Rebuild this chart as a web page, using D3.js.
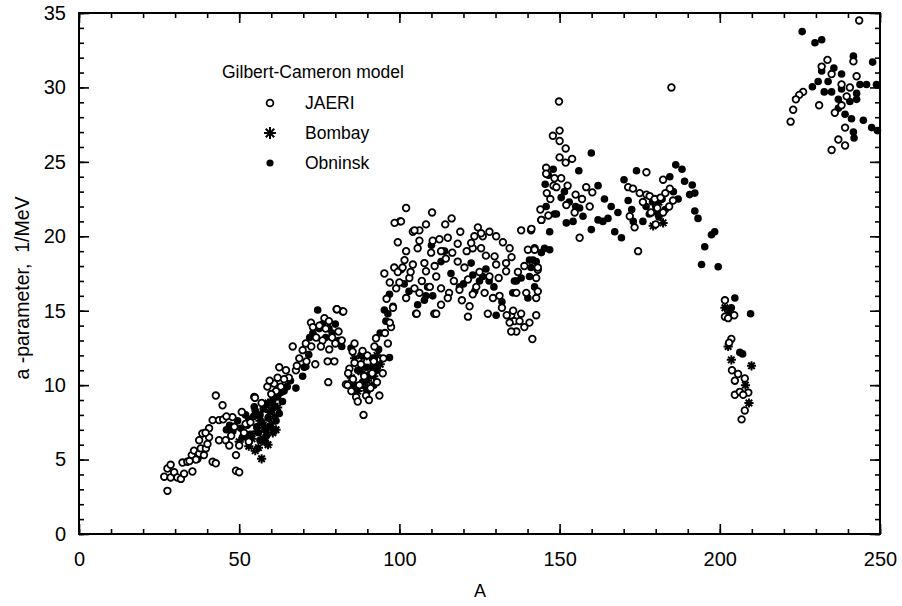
<!DOCTYPE html>
<html>
<head>
<meta charset="utf-8">
<script src="https://cdn.jsdelivr.net/npm/d3@7"></script>
<style>
  html, body { margin: 0; padding: 0; background: #fff; }
  svg { display: block; }
</style>
</head>
<body>
<script>
const width = 902;
const height = 606;
const font = "'Liberation Sans', Arial, Helvetica, sans-serif";

// Tick values
const xMajor = [0, 50, 100, 150, 200, 250];
const xMinor = d3.range(0, 251, 10);
const yMajor = [0, 5, 10, 15, 20, 25, 30, 35];
const yMinor = d3.range(0, 36, 1);

const seriesNames = ["JAERI", "Bombay", "Obninsk"];

// [A, a-parameter]
const jaeri = [
  [27.6,2.9],[26.6,3.85],[27.6,4.4],[28.6,4.65],[28.6,3.8],[29.7,4.15],[30.7,3.8],[31.8,3.7],[32.8,4.05],[32.3,4.8],
  [33.8,4.85],[35.4,4.2],[35.2,5.3],[35.9,5.6],[37,5.05],[37.5,5.4],[38,5.75],[39,5.3],[39.6,5.75],[40.1,6.05],
  [37.5,6.3],[38.5,6.75],[40.6,6.5],[40.6,7.1],[41.7,7.65],[41.7,4.85],[42.7,4.75],[42.7,9.3],[43.7,7.65],[44.8,8.65],
  [43.7,6.3],[45.8,6.3],[46.9,5.95],[47.9,7.85],[49,5.3],[49,4.25],[50,4.15],[50,5.95],[50.8,8.2],[52,7.4],
  [54.7,9.2],[54.9,9.15],[36.5,5.0],[34.5,4.9],[39.5,6.8],[45,7.7],[46,7.9],[47.5,6.6],[48.5,7.2],[51.5,6.8],
  [53,6.2],[53.5,7.5],
  [58.8,9.9],[60.9,10.1],[62,10.5],[63,9.9],[64.6,11.0],[66.7,12.6],[67.7,11.0],[68.75,11.8],[69.8,12.35],[70.8,12.8],
  [72.4,14.2],[73.75,11.4],[76.6,14.5],[77.6,11.6],[77.8,10.2],[79.7,11.6],[80.4,15.1],[82.3,14.95],[83.3,10.05],[74,13.2],
  [75,14.0],[76,13.0],[77,13.8],[78,14.3],[79,13.2],[80,12.8],[81,13.6],[82,13.0],[75.5,12.6],[65.5,10.5],
  [68,11.3],[71,11.6],[72.5,12.6],[73,13.9],[61.5,9.6],[57,8.8],[60,9.4],[59.5,10.3],[62.5,11.2],[64,10.4],
  [78.1,12.4],[80.5,15.1],[82.5,14.95],
  [84.4,11.1],[85.4,12.25],[86.5,9.2],[87,8.9],[88.8,8.0],[89.6,9.3],[83.8,10.0],[93.75,9.3],[94.8,10.8],[96.4,12.8],
  [97.4,13.9],[92.7,13.15],[92.2,12.6],[84,10.8],[85.5,10.4],[86,11.5],[87.5,10.0],[88,11.4],[89,10.6],[90,12.0],
  [91,9.8],[91.5,10.8],[92,11.6],[93,10.2],[95,11.8],[95.5,13.5],[97,14.2],[85,9.6],[90.5,9.0],[88.5,12.3],[86,12.8],
  [95.3,17.5],[98.4,17.9],[97,16.9],[99,16.5],[96,15.8],[98,15.2],[100,16.9],[99.5,17.6],
  [102.1,21.9],[100.2,21.0],[110.2,21.6],[108.3,20.8],[106.25,20.4],[104.2,20.3],[114.3,20.8],[116.3,21.2],[115.1,19.9],[112.5,19.8],
  [110.4,19.7],[106.25,19.7],[118.2,19.5],[124.5,20.6],[123.4,20.0],[128.1,20.3],[126,20.0],[130.2,20.0],[132.3,19.6],[134.4,19.2],
  [122.9,19.2],[125.5,19.2],[138,20.4],[141.1,20.4],[144.3,21.1],[102.1,19.0],[105.7,19.2],[109.9,18.9],[113,19.0],[122.4,19.55],
  [129.7,18.65],[140.1,19.1],[142.2,19.2],[101.6,18.4],[101,17.9],[104.2,18.1],[107.8,18.2],[111,18.0],[108.3,17.65],[118.2,18.3],
  [120.3,17.9],[121.4,17.1],[125,17.6],[128.1,17.3],[130.2,18.1],[133.3,18.2],[133.3,17.65],[143.2,17.75],[142.7,17.2],[103.1,17.2],
  [104.7,16.5],[102.1,15.85],[106.25,16.2],[113,16.5],[115.5,16.2],[115.1,15.85],[118.75,16.4],[122.9,16.1],[126.6,16.2],[129.2,15.85],
  [131.25,16.0],[136.5,16.2],[139.6,16.2],[142.7,15.85],[113,15.4],[110.9,14.8],[105.2,14.8],[121.9,15.3],[121.4,14.6],[127.6,14.8],
  [134.9,14.7],[135.9,14.3],[105.4,14.8],[111.5,14.8],[117,17.0],[119.5,15.7],[124,16.6],[127,18.7],[131,17.2],[135,18.6],
  [137,17.6],[139,18.0],[143.2,16.3],[104.7,20.4],[100.5,21.0],[125.5,20.2],[141.2,20.5],[114.5,18.5],[116.5,18.9],[119,20.3],
  [121,19.0],[98.5,20.9],[99.5,19.6],[103.5,17.6],[107,17.0],[109.5,16.6],[111.5,17.3],
  [134.4,14.2],[136.5,13.6],[134.9,13.6],[140.6,14.2],[141.5,13.1],[142.7,14.7],[137.5,14.3],[139,13.9],[138,14.8],[135.5,15.0],
  [133.5,14.7],[132,15.2],[143.2,17.9],[142.2,19.1],[144.3,21.1],
  [149.8,29.05],[150,27.1],[147.9,26.75],[150,26.4],[151.9,25.9],[150,25.3],[153.9,25.2],[151.9,24.95],[145.8,24.6],[145.8,24.2],
  [148.4,23.9],[148.1,23.4],[146,22.9],[147.1,22.5],[152.1,22.1],[154.7,21.6],[149,23.3],[150.5,23.9],[152.5,23.4],[155,22.8],
  [157,22.5],[144,21.8],[146.5,21.4],
  [158.3,23.3],[160.2,22.95],[159.4,22.0],[156.25,19.9],[171.4,23.3],[177.1,24.3],[172.9,23.2],[175,22.9],[177.1,22.8],[178.1,22.7],
  [179.7,22.5],[171.9,21.35],[173.4,20.6],[174.5,19.0],[182.3,23.8],[184.4,23.2],[185.4,22.4],[184.2,22.0],[182.3,21.6],[184.9,30.0],
  [180.5,21.9],[181.5,22.6],[183,22.9],[176,22.3],[178.5,21.6],[180,20.8],
  [201.6,15.7],[201.6,14.6],[202.6,14.5],[204.5,14.7],[203.6,13.1],[202.9,12.85],[203.8,11.0],[205.7,10.75],[204.7,10.3],[207.8,10.45],
  [208.9,9.5],[204.7,9.35],[206.25,9.55],[207.3,9.35],[207.8,8.3],[206.8,7.7],
  [243.5,34.5],[241.7,31.75],[233.6,31.85],[231.8,31.4],[234.9,30.9],[242.7,30.75],[238,30.2],[240.6,30.0],[226,29.7],[224.8,29.5],
  [223.75,29.2],[222.9,28.5],[222.1,27.7],[239.6,29.4],[231,28.8],[238,28.8],[235.9,28.3],[239.1,27.3],[237,26.5],[239.1,26.1],
  [234.9,25.8]
];

const bombay = [
  [50,6.2],[52,6.6],[53,5.9],[54,6.4],[55,5.6],[55.5,6.9],[56,5.8],[57,5.05],[57.5,6.4],[58,6.2],
  [58.5,7.0],[59,6.0],[60,7.4],[60.5,6.8],[61,7.9],[62,8.5],[56.5,7.6],[59.5,8.2],[57.5,7.3],[59,8.8],[61.5,7.0],
  [85,10.5],[86,11.8],[87,9.6],[88,10.9],[89,11.9],[89.5,9.8],[90,10.3],[91,11.2],[92,10.6],[93,12.0],[94,11.4],
  [179.2,20.7],[182.3,20.9],[180,21.6],[181,22.3],
  [201.6,15.2],[202.6,12.6],[203.6,11.7],[208,10.0],[209.1,8.8],[209.9,11.3],[203,14.9]
];

const obninsk = [
  [46,7.0],[47,7.3],[48,6.9],[49.5,7.6],[50.5,7.1],[51,6.5],[52.5,7.3],[53.5,6.7],[54.5,7.9],[54.7,8.55],
  [55.5,7.2],[56,6.8],[56.5,8.0],[57,7.5],[57.5,8.4],[58,7.0],[58.5,8.7],[59,7.8],[60,8.3],[60.5,9.0],
  [61,8.6],[62,9.2],[63,9.5],[64,9.6],[65,9.9],[66,10.3],[67.7,9.8],[69.8,10.6],[70.3,11.2],[70.8,11.25],
  [71.7,12.05],[70.8,12.8],[72,13.2],[73,13.5],[74.5,15.05],[75,13.8],[76,14.1],[77,13.2],[78,13.8],[79,13.5],
  [80,14.1],[81,13.0],[82,12.6],[52,8.0],[53,7.7],[55,8.3],[56.5,6.3],[58.5,6.6],[59.5,7.2],[61.5,7.6],
  [62.5,8.1],[63.5,8.9],
  [84.9,12.5],[87,11.0],[88.5,10.2],[89.5,11.2],[90.5,10.7],[91.5,11.8],[92.5,11.3],[93.5,12.4],[95.3,15.05],[95.8,14.3],
  [96.9,11.85],[96.4,14.8],[96.9,16.1],[94,13.5],[98,15.3],[86,10.0],[88,12.0],[90,9.6],[92,10.0],[93,11.0],
  [114.1,19.0],[113,18.3],[116.1,17.5],[122.4,18.2],[126,17.3],[125,17.0],[128,17.0],[118.75,16.6],[108.8,16.6],[110.4,16.0],
  [107.8,15.7],[105.7,15.4],[100.5,17.75],[130.2,14.7],[135.9,17.0],[138,17.2],[142.2,16.6],[140.1,15.85],[141.1,17.9],[142.7,18.3],
  [145.3,19.2],[145.8,22.0],[113.5,19.0],[108.3,16.0],[122.9,17.4],[120,16.8],[123.5,16.3],[127,17.8],[129.5,16.6],
  [132,15.6],[103,16.3],[101.5,16.8],[136.5,17.0],[140.6,17.3],[141.7,18.4],[144.3,18.9],[135.4,16.2],[110,19.4],
  [145.5,23.5],[146.5,24.1],[148,24.5],[149,21.5],[150.5,22.6],[151.5,23.0],[153,22.3],[152.1,20.9],[156,24.4],[156.25,21.9],
  [157.3,21.35],[154.2,21.0],[155,22.0],[159.9,25.6],[159.9,20.45],[162,23.4],[162,21.1],[163.5,21.0],[164,22.5],[165.1,21.2],
  [166.1,22.0],[167.2,20.3],[169.3,19.9],[168.2,21.6],[170.1,23.8],[174,24.4],[171.4,22.4],[172.5,21.8],[176,21.0],[177,22.0],
  [178,21.5],[179,22.3],[180,22.0],[181,21.3],[182,22.5],[183,21.8],[184.4,24.0],[186.25,24.8],[188.2,24.5],[189,23.7],
  [191.4,23.45],[192.2,22.9],[190.6,22.8],[192.2,21.7],[193.2,21.2],[198.4,20.3],[197.4,20.1],[195.3,19.3],[194.3,18.1],[199.5,17.95],
  [185.5,23.0],[187,22.5],[173,21.0],[146.9,20.3],[148.4,21.5],[146.9,19.1],[140.6,18.4],
  [204.7,15.85],[203.6,15.2],[209.6,14.8],[206.25,12.2],[207.1,12.1],
  [225.7,33.75],[229.7,33.0],[231.8,33.2],[241.7,32.1],[247.7,31.7],[235.6,31.3],[231.8,31.1],[238,30.9],[233.8,30.4],[230.7,30.4],
  [228.9,30.05],[243.75,30.2],[245.8,30.2],[248.9,30.2],[232.6,29.7],[234.9,29.7],[238,29.9],[237,29.2],[242.7,29.6],[242.7,29.2],
  [240.6,29.05],[237,28.6],[239.1,28.2],[241.1,27.9],[244.8,27.8],[247.4,27.3],[249.2,27.1],[241.7,27.0],[241.9,26.6]
];

const plot = {left: 79, right: 880, top: 13, bottom: 534};

const x = d3.scaleLinear().domain([0, 250]).range([plot.left, plot.right]);
const y = d3.scaleLinear().domain([0, 35]).range([plot.bottom, plot.top]);

const svg = d3.select("body").append("svg")
  .attr("width", width)
  .attr("height", height)
  .style("font-family", font);

// eight-armed star for Bombay
function starPath(s) {
  const p = d3.path();
  for (let k = 0; k < 4; k++) {
    const ang = k * Math.PI / 4;
    p.moveTo(-s * Math.cos(ang), -s * Math.sin(ang));
    p.lineTo(s * Math.cos(ang), s * Math.sin(ang));
  }
  return p.toString();
}

function drawMarker(sel, kind, big) {
  if (kind === "JAERI") {
    sel.append("circle").attr("r", big ? 3.4 : 3.3)
      .attr("fill", "#fff").attr("stroke", "#000").attr("stroke-width", 1.8);
  } else if (kind === "Obninsk") {
    sel.append("circle").attr("r", big ? 3.6 : 3.8).attr("fill", "#000");
  } else {
    sel.append("path").attr("d", starPath(big ? 6 : 4.6))
      .attr("stroke", "#000").attr("stroke-width", 2).attr("fill", "none");
  }
}

// Data points
const pts = svg.append("g");
[["Obninsk", obninsk], ["Bombay", bombay], ["JAERI", jaeri]].forEach(([name, data]) => {
  pts.append("g").selectAll("g")
    .data(data)
    .join("g")
    .attr("transform", d => `translate(${x(d[0])},${y(d[1])})`)
    .each(function () { drawMarker(d3.select(this), name, false); });
});

// Axes: ticks pointing inward on all four sides
function styleAxis(g) {
  g.select(".domain").remove();
  g.selectAll(".tick line").attr("stroke", "#000").attr("stroke-width", 1.6);
  g.selectAll(".tick text").attr("fill", "#000").style("font-size", "20px").style("font-family", font);
}

svg.append("g").attr("transform", `translate(0,${plot.bottom})`)
  .call(d3.axisBottom(x).tickValues(xMinor).tickSize(-5).tickFormat("")).call(styleAxis);
svg.append("g").attr("transform", `translate(0,${plot.bottom})`)
  .call(d3.axisBottom(x).tickValues(xMajor).tickSize(-10).tickPadding(18).tickFormat(d3.format("d"))).call(styleAxis);
svg.append("g").attr("transform", `translate(0,${plot.top})`)
  .call(d3.axisTop(x).tickValues(xMinor).tickSize(-5).tickFormat("")).call(styleAxis);
svg.append("g").attr("transform", `translate(0,${plot.top})`)
  .call(d3.axisTop(x).tickValues(xMajor).tickSize(-10).tickFormat("")).call(styleAxis);

svg.append("g").attr("transform", `translate(${plot.left},0)`)
  .call(d3.axisLeft(y).tickValues(yMinor).tickSize(-5).tickFormat("")).call(styleAxis);
svg.append("g").attr("transform", `translate(${plot.left},0)`)
  .call(d3.axisLeft(y).tickValues(yMajor).tickSize(-10).tickPadding(13).tickFormat(d3.format("d"))).call(styleAxis);
svg.append("g").attr("transform", `translate(${plot.right},0)`)
  .call(d3.axisRight(y).tickValues(yMinor).tickSize(-5).tickFormat("")).call(styleAxis);
svg.append("g").attr("transform", `translate(${plot.right},0)`)
  .call(d3.axisRight(y).tickValues(yMajor).tickSize(-10).tickFormat("")).call(styleAxis);

// frame
svg.append("rect")
  .attr("x", plot.left).attr("y", plot.top)
  .attr("width", plot.right - plot.left).attr("height", plot.bottom - plot.top)
  .attr("fill", "none").attr("stroke", "#000").attr("stroke-width", 2);

// Axis titles
svg.append("text")
  .attr("x", 480).attr("y", 597)
  .attr("text-anchor", "middle")
  .style("font-size", "18px")
  .text("A");

svg.append("text")
  .attr("transform", "translate(29,288) rotate(-90)")
  .attr("text-anchor", "middle")
  .style("font-size", "19.5px")
  .style("white-space", "pre")
  .text("a -parameter,  1/MeV");

// Legend
const legend = svg.append("g");
legend.append("text")
  .attr("x", 222).attr("y", 78)
  .style("font-size", "17.5px")
  .text("Gilbert-Cameron model");

const items = legend.selectAll("g.item")
  .data(seriesNames)
  .join("g")
  .attr("class", "item")
  .attr("transform", (d, i) => `translate(270,${103 + i * 30})`);

items.each(function (d) { drawMarker(d3.select(this), d, true); });

items.append("text")
  .attr("x", 35).attr("y", 6)
  .style("font-size", "17.5px")
  .text(d => d);
</script>
</body>
</html>
